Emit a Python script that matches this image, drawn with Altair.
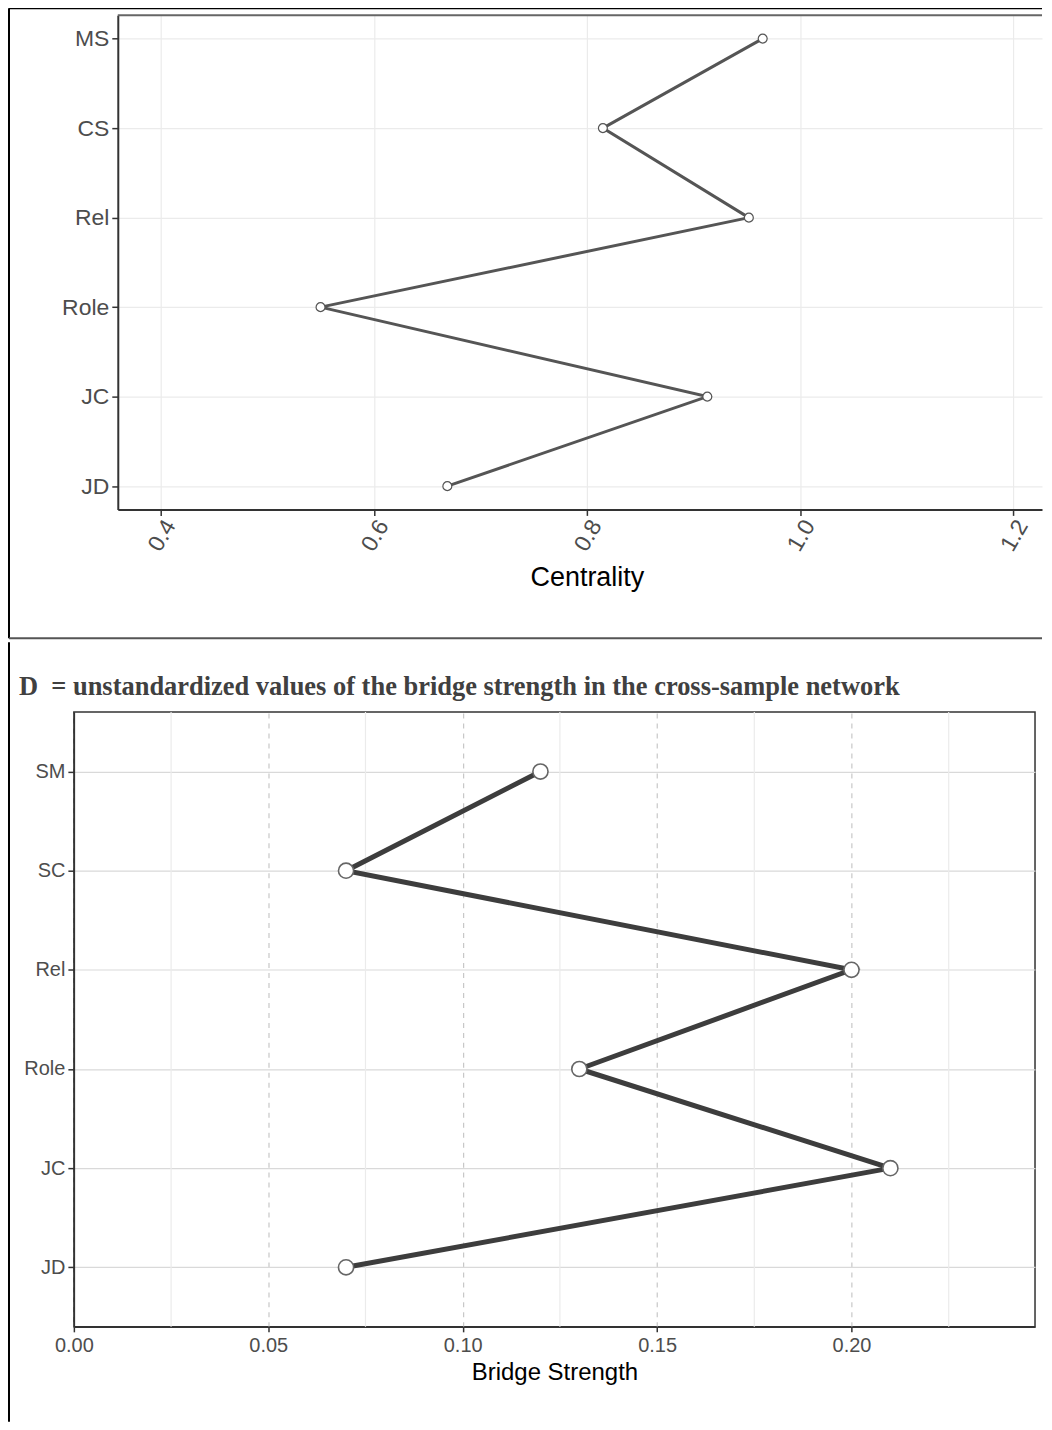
import altair as alt
import pandas as pd

# ---------------- data ----------------
top_nodes = ["MS", "CS", "Rel", "Role", "JC", "JD"]
top_values = [0.965, 0.815, 0.952, 0.550, 0.913, 0.669]
top_ticks = [0.4, 0.6, 0.8, 1.0, 1.2]

bottom_nodes = ["SM", "SC", "Rel", "Role", "JC", "JD"]
bottom_values = [0.120, 0.070, 0.200, 0.130, 0.210, 0.070]
bottom_ticks = [0.0, 0.05, 0.10, 0.15, 0.20]
bottom_minor = [0.025, 0.075, 0.125, 0.175, 0.225]

top_title = "Centrality"
bottom_xtitle = "Bridge Strength"
bottom_heading = "D\u00a0 = unstandardized values of the bridge strength in the cross-sample network"

top_df = pd.DataFrame({"node": top_nodes, "value": top_values, "order": list(range(len(top_nodes)))})
bot_df = pd.DataFrame({"node": bottom_nodes, "value": bottom_values, "order": list(range(len(bottom_nodes)))})
minor_df = pd.DataFrame({"value": bottom_minor})
one = alt.Data(values=[{"a": 1}])

SANS = "Liberation Sans"
SERIF = "Liberation Serif"

# ---------------- top panel ----------------
TW, TH = 970, 495
TX0 = 44  # left edge of the top panel's plot inside the shared column

tx = alt.X(
    "value:Q",
    scale=alt.Scale(domain=[0.3597, 0.3597 + (TW - TX0) / 1067.5], nice=False, zero=False,
                    range=[TX0, TW]),
    axis=alt.Axis(
        values=top_ticks, format=".1f", labelAngle=300, labelFontSize=23, labelFlush=False,
        labelColor="#4d4d4d", labelFont=SANS, labelPadding=6, labelOffset=9,
        tickSize=6, tickColor="#333333", tickWidth=1.5,
        domainColor="#333333", domainWidth=2,
        grid=True, gridColor="#ebebeb", gridWidth=1.2,
        title=top_title, titleFont=SANS, titleFontSize=27, titleFontWeight="normal",
        titleColor="black", titleX=514, titleY=68, titleBaseline="middle", titleAlign="center",
    ),
)
ty = alt.Y(
    "node:N", sort=top_nodes,
    scale=alt.Scale(type="point", padding=0.26),
    axis=alt.Axis(
        title=None, labelFontSize=23, labelColor="#4d4d4d", labelFont=SANS, offset=-TX0,
        labelPadding=3, tickSize=6, tickColor="#333333", tickWidth=1.5,
        domainColor="#333333", domainWidth=2,
        grid=True, gridColor="#ebebeb", gridWidth=1.2,
    ),
)

top_line = alt.Chart(top_df).mark_line(color="#555555", strokeWidth=3).encode(
    x=tx, y=ty, order="order:Q"
)
top_pts = alt.Chart(top_df).mark_circle(
    fill="white", stroke="#555555", strokeWidth=1.2, size=80, opacity=1
).encode(x=tx, y=ty)

top_border = alt.Chart(one).mark_rule(color="#666666", strokeWidth=2).encode(
    x=alt.value(TX0), x2=alt.value(TW), y=alt.value(0)
)
frame_left_top = alt.Chart(one).mark_rule(color="black", strokeWidth=2).encode(
    x=alt.value(-65), y=alt.value(-7), y2=alt.value(624)
)
frame_top = alt.Chart(one).mark_rule(color="black", strokeWidth=2).encode(
    x=alt.value(-65), x2=alt.value(TW), y=alt.value(-7)
)
frame_sep = alt.Chart(one).mark_rule(color="#555555", strokeWidth=2).encode(
    x=alt.value(-65), x2=alt.value(TW), y=alt.value(624)
)

top_chart = alt.layer(
    top_line, top_pts, top_border, frame_left_top, frame_top, frame_sep
).properties(width=TW, height=TH, view=alt.ViewBackground(stroke="transparent"))

# ---------------- bottom panel ----------------
BW, BH = 963, 616
bscale = alt.Scale(domain=[0.0, 0.2472], nice=False, zero=False)

bx = alt.X(
    "value:Q", scale=bscale,
    axis=alt.Axis(
        values=bottom_ticks, format=".2f", labelAngle=0, labelFontSize=20, labelFlush=False,
        labelColor="#4d4d4d", labelFont=SANS, labelPadding=4,
        tickSize=5, tickColor="#333333", tickWidth=1.5,
        domainColor="#333333", domainWidth=1.5,
        grid=True, gridColor="#c8c8c8", gridWidth=1.2, gridDash=[5, 5],
        title=bottom_xtitle, titleFont=SANS, titleFontSize=24, titleFontWeight="normal",
        titleColor="black", titleY=46, titleBaseline="middle",
    ),
)
by = alt.Y(
    "node:N", sort=bottom_nodes,
    scale=alt.Scale(type="point", padding=0.6),
    axis=alt.Axis(
        title=None, labelFontSize=20, labelColor="#4d4d4d", labelFont=SANS,
        labelPadding=3, tickSize=6, tickColor="#333333", tickWidth=1.5,
        domainColor="#333333", domainWidth=1.5,
        grid=True, gridColor="#d9d9d9", gridWidth=1.2,
    ),
)

minor = alt.Chart(minor_df).mark_rule(color="#ebebeb", strokeWidth=1.2).encode(
    x=alt.X("value:Q", scale=bscale)
)
bot_line = alt.Chart(bot_df).mark_line(color="#3d3d3d", strokeWidth=5).encode(
    x=bx, y=by, order="order:Q"
)
bot_pts = alt.Chart(bot_df).mark_circle(
    fill="white", stroke="#666666", strokeWidth=1.6, size=230, opacity=1
).encode(x=bx, y=by)

heading = alt.Chart(one).mark_text(
    text=bottom_heading, font=SERIF, fontSize=26.5, fontWeight="bold",
    color="#404040", align="left", baseline="middle",
).encode(x=alt.value(-55), y=alt.value(-25))

frame_left_bot = alt.Chart(one).mark_rule(color="black", strokeWidth=2).encode(
    x=alt.value(-65), y=alt.value(-70), y2=alt.value(711)
)

bot_chart = alt.layer(
    minor, bot_line, bot_pts, heading, frame_left_bot
).properties(
    width=BW, height=BH,
    view=alt.ViewBackground(stroke="#333333", strokeWidth=1.5),
)

chart = alt.vconcat(top_chart, bot_chart, spacing=0).properties(
    padding={"left": -1, "top": -3, "right": 0, "bottom": 0}
).configure(background="white")

chart.save("out.html", embed_options={"renderer": "svg", "actions": False})
